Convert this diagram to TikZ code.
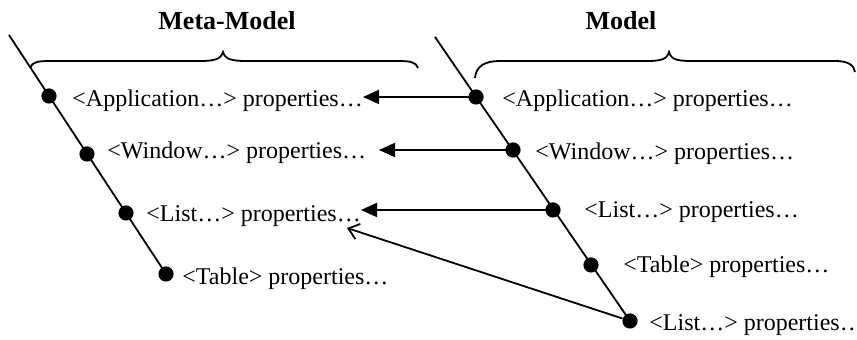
\documentclass[tikz,border=0pt]{standalone}
\usepackage{fontspec}
\setmainfont{Liberation Serif}
\usetikzlibrary{arrows.meta}
\begin{document}
\begin{tikzpicture}[x=0.5pt,y=-0.5pt,
  spine/.style={line width=0.9pt},
  dotnode/.style={circle,fill=black,inner sep=0pt,minimum size=7.6pt},
  itemtext/.style={anchor=base west,inner sep=0pt,font=\fontsize{12}{14}\selectfont},
  headtext/.style={anchor=base,inner sep=0pt,font=\fontsize{13}{15}\selectfont\bfseries},
  bracepath/.style={line width=0.9pt},
  maparrow/.style={line width=0.9pt,-{Triangle[length=8pt,width=7pt]}},
  inherit/.style={line width=0.9pt,-{Straight Barb[length=5pt,width=8pt]}}]
\useasboundingbox (0,0) rectangle (857,340);
\clip (0,0) rectangle (857,340);

% headings
\node[headtext] (hMeta) at (227,30) {Meta-Model};
\node[headtext] (hModel) at (621,30) {Model};

% braces under the headings
\draw[bracepath] (30,68) .. controls (32,62) and (38,61) .. (50,61) -- (200,61)
  .. controls (215,61) and (221,59) .. (223,52)
  .. controls (225,59) and (231,61) .. (246,61) -- (398,61)
  .. controls (410,61) and (416,62) .. (418,68);
\draw[bracepath] (475,78) .. controls (476,66) and (485,61) .. (500,61) -- (647,61)
  .. controls (662,61) and (667,59) .. (669,52)
  .. controls (671,59) and (676,61) .. (691,61) -- (835,61)
  .. controls (848,61) and (854,65) .. (855,72);

% meta-model elements
\coordinate (lTop) at (9,35);
\node[dotnode] (lA) at (49,96) {};
\node[dotnode] (lW) at (87,154) {};
\node[dotnode] (lL) at (126,213) {};
\node[dotnode] (lT) at (166,274) {};
\draw[spine] (lTop) -- (lT.center);

\node[itemtext] (lAt) at (72,107) {<Application…> properties…};
\node[itemtext] (lWt) at (107,159) {<Window…> properties…};
\node[itemtext] (lLt) at (146,222) {<List…> properties…};
\node[itemtext] (lTt) at (182,285) {<Table> properties…};

% model elements
\coordinate (rTop) at (435,37);
\node[dotnode] (rA) at (476,97) {};
\node[dotnode] (rW) at (513,150) {};
\node[dotnode] (rL) at (553,210) {};
\node[dotnode] (rT) at (591,265) {};
\node[dotnode] (rL2) at (630,321) {};
\draw[spine] (rTop) -- (rL2.center);

\node[itemtext] (rAt) at (502,107) {<Application…> properties…};
\node[itemtext] (rWt) at (535,160) {<Window…> properties…};
\node[itemtext] (rLt) at (584,218) {<List…> properties…};
\node[itemtext] (rTt) at (623,273) {<Table> properties…};
\node[itemtext] (rL2t) at (649,331) {<List…> properties…};

% instance-of links
\coordinate (tA) at (363,97);
\coordinate (tW) at (379,150);
\coordinate (tL) at (361,210);
\coordinate (tD) at (347,228);
\draw[maparrow] (rA.center) -- (tA);
\draw[maparrow] (rW.center) -- (tW);
\draw[maparrow] (rL.center) -- (tL);
\draw[inherit] (rL2) -- (tD);
\end{tikzpicture}
\end{document}
